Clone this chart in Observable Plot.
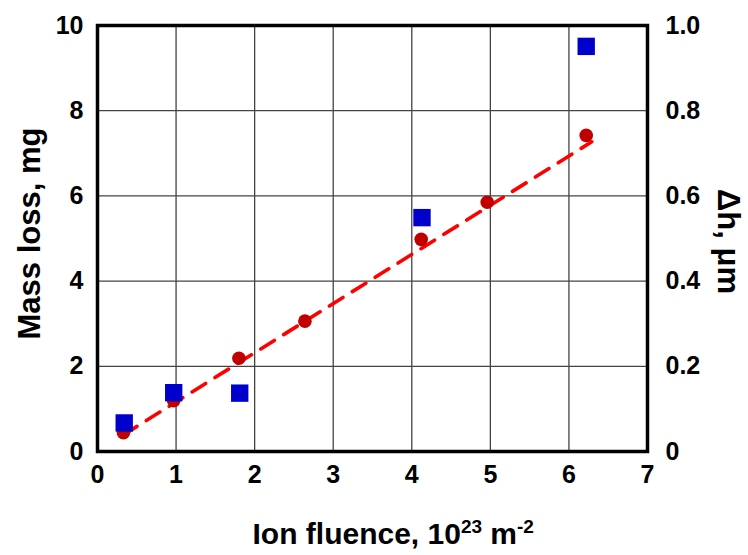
<!DOCTYPE html>
<html>
<head>
<meta charset="utf-8">
<script src="https://cdn.jsdelivr.net/npm/d3@7"></script>
<script src="https://cdn.jsdelivr.net/npm/@observablehq/plot@0.6"></script>
<style>
  html, body { margin: 0; padding: 0; background: #fff; }
</style>
</head>
<body>
<div id="chart"></div>
<script>
// ---- data ----
const xTicks = [0, 1, 2, 3, 4, 5, 6, 7];
const yTicks = [0, 2, 4, 6, 8, 10];
const dhTickLabels = ["0", "0.2", "0.4", "0.6", "0.8", "1.0"];

// red circles: mass loss (mg)
const circleFluence = [0.33, 0.97, 1.80, 2.64, 4.12, 4.96, 6.22];
const massLoss      = [0.44, 1.19, 2.19, 3.06, 4.98, 5.85, 7.42];

// blue squares: Δh (µm), right axis
const squareFluence = [0.34, 0.97, 1.81, 4.13, 6.22];
const deltaH        = [0.067, 0.138, 0.137, 0.549, 0.951];

// red dashed fit line end points
const fitFluence = [0.33, 6.29];
const fitMass    = [0.39, 7.27];

const circles = circleFluence.map((x, i) => ({x, y: massLoss[i]}));
const squares = squareFluence.map((x, i) => ({x, dh: deltaH[i]}));
const fit = fitFluence.map((x, i) => ({x, y: fitMass[i]}));
const DH_FACTOR = 10; // right axis 0..1 maps onto left axis 0..10

const FONT = "'Liberation Sans', Arial, Helvetica, sans-serif";

const chart = Plot.plot({
  width: 748,
  height: 555,
  marginLeft: 97,
  marginRight: 101,
  marginTop: 25,
  marginBottom: 104,
  x: {domain: [0, 7]},
  y: {domain: [0, 10]},
  style: {fontFamily: FONT, fontWeight: "bold", fontSize: "25px", color: "#000", background: "#fff", overflow: "visible"},
  marks: [
    Plot.gridX(xTicks.slice(1, -1), {stroke: "#444", strokeOpacity: 1, strokeWidth: 1.3}),
    Plot.gridY(yTicks.slice(1, -1), {stroke: "#444", strokeOpacity: 1, strokeWidth: 1.3}),
    Plot.line(fit, {x: "x", y: "y", stroke: "#ff0000", strokeWidth: 3.6, strokeDasharray: "16,11"}),
    Plot.dot(circles, {x: "x", y: "y", r: 6.8, fill: "#c00000", stroke: "none"}),
    Plot.dot(squares, {x: "x", y: d => d.dh * DH_FACTOR, symbol: "square", r: 9.8, fill: "#0000cc", stroke: "none"}),
    Plot.frame({stroke: "#000", strokeWidth: 3.5}),
    Plot.axisX({ticks: xTicks, tickSize: 0, tickPadding: 14, label: null, fontSize: 25, tickFormat: d => String(d)}),
    Plot.axisY({ticks: yTicks, tickSize: 0, tickPadding: 14, label: null, fontSize: 25, tickFormat: d => String(d)}),
    Plot.axisY({anchor: "right", ticks: yTicks, tickSize: 0, tickPadding: 18, label: null, fontSize: 25,
      tickFormat: d => dhTickLabels[yTicks.indexOf(d)]}),
    Plot.text(["Mass loss, mg"], {frameAnchor: "left", textAnchor: "middle", dx: -67, dy: -5, rotate: -90, fontSize: 31, fontWeight: "bold"}),
    Plot.text(["Δh, μm"], {frameAnchor: "right", textAnchor: "middle", dx: 80, dy: 3, rotate: 90, fontSize: 31, fontWeight: "bold"}),
    Plot.text(["Ion fluence, 10|23| m|-2"], {frameAnchor: "bottom", textAnchor: "start", dx: -120, dy: 92, fontSize: 30, fontWeight: "bold"})
  ]
});

// turn the x-axis title into real superscripts
d3.select(chart).selectAll("text").each(function () {
  const t = this.textContent;
  if (t.startsWith("Ion fluence")) {
    const parts = t.split("|");
    const sel = d3.select(this);
    sel.text(null);
    sel.append("tspan").text(parts[0]);
    sel.append("tspan").attr("font-size", "19px").attr("dy", "-11").text(parts[1]);
    sel.append("tspan").attr("dy", "11").text(parts[2]);
    sel.append("tspan").attr("font-size", "19px").attr("dy", "-11").text(parts[3]);
  }
});

document.getElementById("chart").appendChild(chart);
</script>
</body>
</html>
